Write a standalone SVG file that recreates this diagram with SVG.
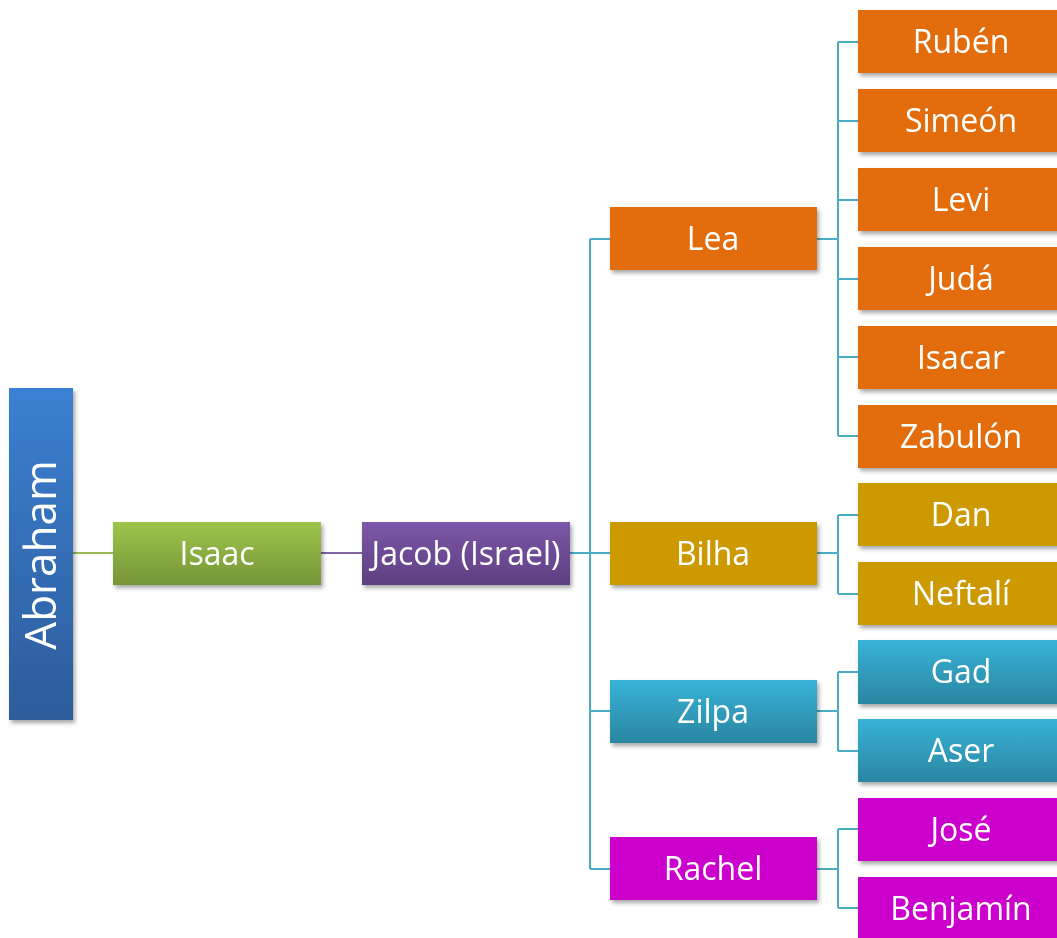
<svg xmlns="http://www.w3.org/2000/svg" width="1057" height="938" viewBox="0 0 1057 938">
<defs>
<filter id="sh" x="-10%" y="-20%" width="130%" height="150%">
<feDropShadow dx="2" dy="3" stdDeviation="2" flood-color="#000" flood-opacity="0.35"/>
</filter>
<linearGradient id="gBlue" x1="0" y1="0" x2="0" y2="1"><stop offset="0" stop-color="#3b80d1"/><stop offset="1" stop-color="#2d5c9b"/></linearGradient>
<linearGradient id="gGreen" x1="0" y1="0" x2="0" y2="1"><stop offset="0" stop-color="#9dc54b"/><stop offset="1" stop-color="#769538"/></linearGradient>
<linearGradient id="gPurple" x1="0" y1="0" x2="0" y2="1"><stop offset="0" stop-color="#7d57a8"/><stop offset="1" stop-color="#5d3f80"/></linearGradient>
<linearGradient id="gCyan" x1="0" y1="0" x2="0" y2="1"><stop offset="0" stop-color="#38b2d7"/><stop offset="1" stop-color="#2a86a1"/></linearGradient>
</defs>
<style>
.n{filter:url(#sh)}
.or{fill:#e36c0a}
.gd{fill:#cc9900}
.cy{fill:url(#gCyan)}
.mg{fill:#cc00cc}
.t{font-family:"Open Sans",Lato,sans-serif;font-size:32px;fill:#fff;text-anchor:middle}
.c{fill:none;stroke:#4bacc6;stroke-width:2}
</style>
<g id="connectors">
<line x1="73" y1="553" x2="113" y2="553" stroke="#9bbb59" stroke-width="2"/>
<line x1="321" y1="553" x2="362" y2="553" stroke="#8064a2" stroke-width="2"/>
<path class="c" d="M570 553H610M590 239V869M590 239H610M590 711H610M590 869H610"/>
<path class="c" d="M817 239H838M838 42V436M838 42H858M838 121H858M838 200H858M838 279H858M838 357H858M838 436H858"/>
<path class="c" d="M817 553H838M838 515V594M838 515H858M838 594H858"/>
<path class="c" d="M817 711H838M838 672V751M838 672H858M838 751H858"/>
<path class="c" d="M817 869H838M838 829V908M838 829H858M838 908H858"/>
</g>
<g id="abraham" class="n"><rect x="9" y="388" width="64" height="332" fill="url(#gBlue)"/><text class="t" style="font-size:44px" transform="translate(56 555) rotate(-90)">Abraham</text></g>
<g id="isaac" class="n"><rect x="113" y="522" width="208" height="63" fill="url(#gGreen)"/><text class="t" x="217" y="565">Isaac</text></g>
<g id="jacob" class="n"><rect x="362" y="522" width="208" height="63" fill="url(#gPurple)"/><text class="t" x="466" y="565">Jacob (Israel)</text></g>
<g id="lea" class="n"><rect class="or" x="610" y="207" width="207" height="63"/><text class="t" x="713" y="250">Lea</text></g>
<g id="bilha" class="n"><rect class="gd" x="610" y="522" width="207" height="63"/><text class="t" x="713" y="565">Bilha</text></g>
<g id="zilpa" class="n"><rect class="cy" x="610" y="680" width="207" height="63"/><text class="t" x="713" y="723">Zilpa</text></g>
<g id="rachel" class="n"><rect class="mg" x="610" y="837" width="207" height="63"/><text class="t" x="713" y="880">Rachel</text></g>
<g id="ruben" class="n"><rect class="or" x="858" y="10" width="205" height="63"/><text class="t" x="961" y="53">Rubén</text></g>
<g id="simeon" class="n"><rect class="or" x="858" y="89" width="205" height="63"/><text class="t" x="961" y="132">Simeón</text></g>
<g id="levi" class="n"><rect class="or" x="858" y="168" width="205" height="63"/><text class="t" x="961" y="211">Levi</text></g>
<g id="juda" class="n"><rect class="or" x="858" y="247" width="205" height="63"/><text class="t" x="961" y="290">Judá</text></g>
<g id="isacar" class="n"><rect class="or" x="858" y="326" width="205" height="63"/><text class="t" x="961" y="369">Isacar</text></g>
<g id="zabulon" class="n"><rect class="or" x="858" y="405" width="205" height="63"/><text class="t" x="961" y="448">Zabulón</text></g>
<g id="dan" class="n"><rect class="gd" x="858" y="483" width="205" height="63"/><text class="t" x="961" y="526">Dan</text></g>
<g id="neftali" class="n"><rect class="gd" x="858" y="562" width="205" height="63"/><text class="t" x="961" y="605">Neftalí</text></g>
<g id="gad" class="n"><rect class="cy" x="858" y="640" width="205" height="64"/><text class="t" x="961" y="683">Gad</text></g>
<g id="aser" class="n"><rect class="cy" x="858" y="719" width="205" height="63"/><text class="t" x="961" y="762">Aser</text></g>
<g id="jose" class="n"><rect class="mg" x="858" y="798" width="205" height="63"/><text class="t" x="961" y="841">José</text></g>
<g id="benjamin" class="n"><rect class="mg" x="858" y="877" width="205" height="63"/><text class="t" x="961" y="920">Benjamín</text></g>
</svg>
